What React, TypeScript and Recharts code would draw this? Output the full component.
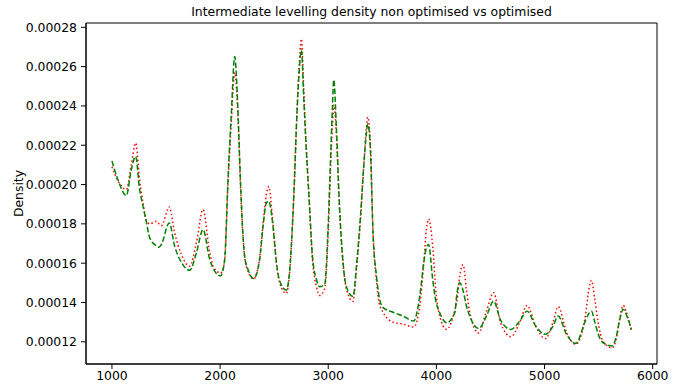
import { LineChart, Line, XAxis, YAxis, ReferenceArea } from "recharts";

// x positions of the density curves
const xs = [
  1000, 1055, 1133, 1179, 1219, 1256, 1287, 1318, 1349, 1411, 1435, 1457, 1530, 1580, 1642,
  1719, 1781, 1842, 1904, 1950, 2005, 2042, 2073, 2104, 2135, 2166, 2188, 2212, 2227, 2258,
  2310, 2366, 2397, 2428, 2450, 2489, 2521, 2551, 2612, 2644, 2681, 2711, 2730, 2752, 2773,
  2792, 2822, 2854, 2891, 2920, 2967, 2998, 3020, 3039, 3051, 3076, 3100, 3137, 3168, 3229,
  3261, 3298, 3328, 3353, 3365, 3390, 3414, 3446, 3470, 3507, 3600, 3692, 3790, 3846, 3883,
  3908, 3928, 3966, 3994, 4031, 4095, 4170, 4191, 4216, 4247, 4278, 4309, 4390, 4463, 4529,
  4594, 4690, 4771, 4839, 4918, 5007, 5079, 5126, 5203, 5289, 5380, 5405, 5434, 5465, 5496,
  5540, 5625, 5665, 5696, 5727, 5773, 5804,
];

// non optimised (red dotted), density in units of 1e-5
const nonOptimisedE5 = [
  20.9, 20.2, 19.75, 21.0, 22.11, 20.25, 19.07, 18.2, 18.0, 18.13, 18.0, 17.91, 18.86, 17.54, 16.44,
  15.85, 17.04, 18.73, 16.53, 15.7, 15.5, 16.1, 20.0, 23.2, 25.7, 23.3, 20.0, 17.3, 16.3, 15.6,
  15.2, 16.3, 18.0, 19.5, 19.9, 18.0, 16.0, 15.0, 14.46, 15.6, 19.3, 23.7, 25.9, 27.41, 24.9,
  22.5, 19.4, 16.2, 14.8, 14.36, 14.7, 17.3, 20.6, 23.0, 24.05, 22.5, 19.2, 16.0, 14.7, 14.05,
  15.7, 18.2, 20.9, 22.9, 23.43, 22.0, 17.6, 15.1, 14.0, 13.5, 13.0, 12.9, 12.75, 13.82, 16.0,
  17.71, 18.25, 16.86, 14.66, 13.3, 12.63, 13.6, 14.1, 15.34, 15.93, 14.66, 13.48, 12.45, 13.56, 14.5,
  12.97, 12.26, 13.0, 13.85, 12.8, 12.16, 13.0, 13.79, 12.5, 11.87, 13.4, 14.5, 15.12, 14.16, 12.97,
  12.04, 11.69, 12.2, 13.2, 13.85, 13.2, 12.55,
];

// optimised (green dashed), density in units of 1e-5
const optimisedE5 = [
  21.2, 20.25, 19.44, 20.76, 21.43, 19.74, 18.9, 18.1, 17.29, 16.88, 16.81, 16.95, 18.05, 16.86, 16.05,
  15.64, 16.53, 17.71, 16.19, 15.6, 15.35, 16.19, 20.25, 23.63, 26.51, 23.63, 20.25, 17.37, 16.36, 15.68,
  15.22, 16.19, 17.88, 19.07, 19.15, 17.88, 16.02, 15.09, 14.63, 15.68, 19.4, 23.63, 25.67, 26.85, 24.48,
  22.28, 19.4, 16.36, 15.17, 14.8, 14.92, 17.71, 21.1, 23.97, 25.33, 22.79, 19.4, 16.02, 14.8, 14.3,
  15.85, 18.39, 20.92, 22.62, 23.09, 21.77, 17.54, 15.34, 14.32, 13.74, 13.5, 13.31, 13.06, 14.32, 16.02,
  16.8, 16.95, 15.17, 14.1, 13.48, 12.97, 13.48, 14.5, 15.0, 14.6, 13.82, 13.3, 12.67, 13.31, 14.07,
  13.1, 12.63, 13.06, 13.56, 12.8, 12.38, 12.8, 13.31, 12.38, 11.92, 13.1, 13.4, 13.56, 13.0, 12.4,
  11.96, 11.79, 12.3, 13.14, 13.65, 13.14, 12.63,
];

const xTicks = [1000, 2000, 3000, 4000, 5000, 6000];
const yTicks = [0.00012, 0.00014, 0.00016, 0.00018, 0.0002, 0.00022, 0.00024, 0.00026, 0.00028];

const X_DOMAIN: [number, number] = [760, 6040];
const Y_DOMAIN: [number, number] = [0.0001087, 0.0002822];

const data = xs.map((x, i) => ({
  x,
  red: nonOptimisedE5[i] * 1e-5,
  green: optimisedE5[i] * 1e-5,
}));

const font = "'DejaVu Sans', sans-serif";

export default function App() {
  return (
    <div
      style={{
        position: "absolute",
        left: 0,
        top: 0,
        width: 682,
        height: 389,
        background: "#fff",
        fontFamily: font,
      }}
    >
      <div
        style={{
          position: "absolute",
          left: 86,
          width: 571,
          top: 4,
          textAlign: "center",
          fontSize: 12.4,
          color: "#000",
        }}
      >
        Intermediate levelling density non optimised vs optimised
      </div>
      <LineChart
        width={682}
        height={389}
        data={data}
        margin={{ top: 23, right: 25, bottom: 0, left: 0 }}
      >
        <XAxis
          dataKey="x"
          type="number"
          domain={X_DOMAIN}
          ticks={xTicks}
          allowDataOverflow
          height={25}
          stroke="#000"
          tickSize={5}
          tick={{ fontSize: 12.4, fill: "#000", fontFamily: font }}
          tickLine={{ stroke: "#000" }}
        />
        <YAxis
          type="number"
          domain={Y_DOMAIN}
          ticks={yTicks}
          allowDataOverflow
          width={86}
          stroke="#000"
          tickSize={5}
          tickFormatter={(v: number) => v.toFixed(5)}
          tick={{ fontSize: 12.4, fill: "#000", fontFamily: font, dx: -2 }}
          tickLine={{ stroke: "#000" }}
          label={{
            value: "Density",
            angle: -90,
            position: "center",
            dx: -24,
            style: { fontSize: 12.4, fill: "#000", fontFamily: font },
          }}
        />
        <ReferenceArea
          x1={X_DOMAIN[0]}
          x2={X_DOMAIN[1]}
          y1={Y_DOMAIN[0]}
          y2={Y_DOMAIN[1]}
          fill="none"
          stroke="#000"
          strokeWidth={1}
        />
        <Line
          type="monotone"
          dataKey="red"
          stroke="#ff0000"
          strokeWidth={1.5}
          strokeDasharray="1.5 2.5"
          dot={false}
          isAnimationActive={false}
        />
        <Line
          type="monotone"
          dataKey="green"
          stroke="#008000"
          strokeWidth={1.5}
          strokeDasharray="5.5 2.4"
          dot={false}
          isAnimationActive={false}
        />
      </LineChart>
    </div>
  );
}
